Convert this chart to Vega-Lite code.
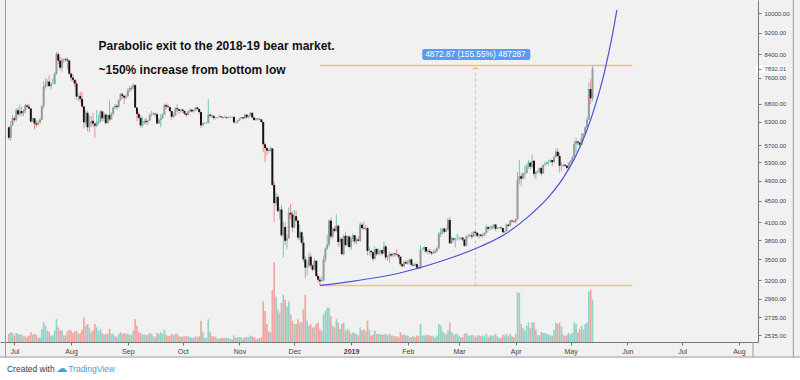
{
"$schema":"https://vega.github.io/schema/vega-lite/v6.json",
"width":758,"height":342,
"autosize":{"type":"none"},
"padding":{"left":0,"top":0,"right":42,"bottom":38},
"background":"#f1f1f1",
"config":{"font":"Liberation Sans","view":{"stroke":null}},
"datasets":{
"candles":[
{"d":"2018-06-28","o":6150,"h":6170,"l":5830,"c":5880,"v":10},
{"d":"2018-06-29","o":5880,"h":6300,"l":5800,"c":6200,"v":12},
{"d":"2018-06-30","o":6200,"h":6480,"l":6190,"c":6390,"v":11},
{"d":"2018-07-01","o":6390,"h":6440,"l":6280,"c":6350,"v":8},
{"d":"2018-07-02","o":6350,"h":6680,"l":6300,"c":6610,"v":11},
{"d":"2018-07-03","o":6610,"h":6680,"l":6470,"c":6500,"v":10},
{"d":"2018-07-04","o":6500,"h":6770,"l":6440,"c":6590,"v":9},
{"d":"2018-07-05","o":6590,"h":6710,"l":6460,"c":6530,"v":9},
{"d":"2018-07-06","o":6530,"h":6640,"l":6450,"c":6600,"v":7},
{"d":"2018-07-07","o":6600,"h":6790,"l":6540,"c":6750,"v":7},
{"d":"2018-07-08","o":6750,"h":6780,"l":6690,"c":6710,"v":6},
{"d":"2018-07-09","o":6710,"h":6800,"l":6640,"c":6660,"v":8},
{"d":"2018-07-10","o":6660,"h":6680,"l":6280,"c":6300,"v":12},
{"d":"2018-07-11","o":6300,"h":6410,"l":6290,"c":6390,"v":9},
{"d":"2018-07-12","o":6390,"h":6400,"l":6100,"c":6250,"v":10},
{"d":"2018-07-13","o":6250,"h":6340,"l":6140,"c":6220,"v":9},
{"d":"2018-07-14","o":6220,"h":6330,"l":6200,"c":6270,"v":5},
{"d":"2018-07-15","o":6270,"h":6400,"l":6250,"c":6350,"v":6},
{"d":"2018-07-16","o":6350,"h":6760,"l":6340,"c":6730,"v":16},
{"d":"2018-07-17","o":6730,"h":7480,"l":6660,"c":7320,"v":24},
{"d":"2018-07-18","o":7320,"h":7580,"l":7250,"c":7380,"v":20},
{"d":"2018-07-19","o":7380,"h":7550,"l":7300,"c":7470,"v":14},
{"d":"2018-07-20","o":7470,"h":7680,"l":7300,"c":7330,"v":13},
{"d":"2018-07-21","o":7330,"h":7440,"l":7220,"c":7400,"v":8},
{"d":"2018-07-22","o":7400,"h":7580,"l":7380,"c":7400,"v":8},
{"d":"2018-07-23","o":7400,"h":7780,"l":7380,"c":7720,"v":14},
{"d":"2018-07-24","o":7720,"h":8480,"l":7700,"c":8400,"v":28},
{"d":"2018-07-25","o":8400,"h":8470,"l":8060,"c":8170,"v":18},
{"d":"2018-07-26","o":8170,"h":8300,"l":7850,"c":7930,"v":14},
{"d":"2018-07-27","o":7930,"h":8270,"l":7800,"c":8190,"v":14},
{"d":"2018-07-28","o":8190,"h":8240,"l":8090,"c":8230,"v":8},
{"d":"2018-07-29","o":8230,"h":8290,"l":8130,"c":8210,"v":8},
{"d":"2018-07-30","o":8210,"h":8280,"l":7860,"c":8170,"v":13},
{"d":"2018-07-31","o":8170,"h":8180,"l":7700,"c":7730,"v":15},
{"d":"2018-08-01","o":7730,"h":7760,"l":7480,"c":7600,"v":14},
{"d":"2018-08-02","o":7600,"h":7720,"l":7460,"c":7530,"v":11},
{"d":"2018-08-03","o":7530,"h":7540,"l":7300,"c":7410,"v":13},
{"d":"2018-08-04","o":7410,"h":7500,"l":6930,"c":7010,"v":14},
{"d":"2018-08-05","o":7010,"h":7090,"l":6880,"c":7030,"v":10},
{"d":"2018-08-06","o":7030,"h":7150,"l":6840,"c":6940,"v":11},
{"d":"2018-08-07","o":6940,"h":7150,"l":6680,"c":6720,"v":15},
{"d":"2018-08-08","o":6720,"h":6730,"l":6120,"c":6280,"v":30},
{"d":"2018-08-09","o":6280,"h":6620,"l":6200,"c":6540,"v":20},
{"d":"2018-08-10","o":6540,"h":6590,"l":6050,"c":6150,"v":22},
{"d":"2018-08-11","o":6150,"h":6480,"l":6020,"c":6240,"v":18},
{"d":"2018-08-12","o":6240,"h":6450,"l":6160,"c":6320,"v":12},
{"d":"2018-08-13","o":6320,"h":6540,"l":6160,"c":6250,"v":14},
{"d":"2018-08-14","o":6250,"h":6260,"l":5880,"c":6190,"v":22},
{"d":"2018-08-15","o":6190,"h":6620,"l":6150,"c":6270,"v":18},
{"d":"2018-08-16","o":6270,"h":6480,"l":6220,"c":6310,"v":13},
{"d":"2018-08-17","o":6310,"h":6620,"l":6280,"c":6580,"v":16},
{"d":"2018-08-18","o":6580,"h":6600,"l":6310,"c":6390,"v":11},
{"d":"2018-08-19","o":6390,"h":6560,"l":6300,"c":6490,"v":9},
{"d":"2018-08-20","o":6490,"h":6520,"l":6230,"c":6260,"v":10},
{"d":"2018-08-21","o":6260,"h":6500,"l":6250,"c":6480,"v":10},
{"d":"2018-08-22","o":6480,"h":6900,"l":6300,"c":6360,"v":16},
{"d":"2018-08-23","o":6360,"h":6550,"l":6350,"c":6520,"v":10},
{"d":"2018-08-24","o":6520,"h":6710,"l":6470,"c":6690,"v":10},
{"d":"2018-08-25","o":6690,"h":6790,"l":6650,"c":6740,"v":7},
{"d":"2018-08-26","o":6740,"h":6780,"l":6620,"c":6710,"v":6},
{"d":"2018-08-27","o":6710,"h":6930,"l":6670,"c":6910,"v":10},
{"d":"2018-08-28","o":6910,"h":7120,"l":6880,"c":7080,"v":12},
{"d":"2018-08-29","o":7080,"h":7140,"l":6950,"c":7030,"v":10},
{"d":"2018-08-30","o":7030,"h":7060,"l":6790,"c":6980,"v":11},
{"d":"2018-08-31","o":6980,"h":7080,"l":6930,"c":7020,"v":10},
{"d":"2018-09-01","o":7020,"h":7260,"l":7010,"c":7190,"v":10},
{"d":"2018-09-02","o":7190,"h":7340,"l":7140,"c":7270,"v":9},
{"d":"2018-09-03","o":7270,"h":7340,"l":7190,"c":7260,"v":9},
{"d":"2018-09-04","o":7260,"h":7410,"l":7230,"c":7360,"v":14},
{"d":"2018-09-05","o":7360,"h":7390,"l":6680,"c":6690,"v":28},
{"d":"2018-09-06","o":6690,"h":6700,"l":6310,"c":6510,"v":20},
{"d":"2018-09-07","o":6510,"h":6560,"l":6370,"c":6400,"v":12},
{"d":"2018-09-08","o":6400,"h":6470,"l":6140,"c":6200,"v":11},
{"d":"2018-09-09","o":6200,"h":6440,"l":6140,"c":6250,"v":9},
{"d":"2018-09-10","o":6250,"h":6380,"l":6240,"c":6320,"v":9},
{"d":"2018-09-11","o":6320,"h":6400,"l":6210,"c":6290,"v":9},
{"d":"2018-09-12","o":6290,"h":6350,"l":6200,"c":6330,"v":9},
{"d":"2018-09-13","o":6330,"h":6530,"l":6320,"c":6480,"v":11},
{"d":"2018-09-14","o":6480,"h":6590,"l":6440,"c":6490,"v":10},
{"d":"2018-09-15","o":6490,"h":6560,"l":6480,"c":6520,"v":7},
{"d":"2018-09-16","o":6520,"h":6540,"l":6420,"c":6500,"v":6},
{"d":"2018-09-17","o":6500,"h":6520,"l":6240,"c":6250,"v":11},
{"d":"2018-09-18","o":6250,"h":6390,"l":6240,"c":6340,"v":10},
{"d":"2018-09-19","o":6340,"h":6510,"l":6150,"c":6390,"v":12},
{"d":"2018-09-20","o":6390,"h":6530,"l":6380,"c":6490,"v":10},
{"d":"2018-09-21","o":6490,"h":6790,"l":6480,"c":6760,"v":15},
{"d":"2018-09-22","o":6760,"h":6820,"l":6650,"c":6720,"v":9},
{"d":"2018-09-23","o":6720,"h":6790,"l":6690,"c":6700,"v":7},
{"d":"2018-09-24","o":6700,"h":6720,"l":6570,"c":6590,"v":8},
{"d":"2018-09-25","o":6590,"h":6600,"l":6350,"c":6430,"v":10},
{"d":"2018-09-26","o":6430,"h":6540,"l":6400,"c":6460,"v":9},
{"d":"2018-09-27","o":6460,"h":6700,"l":6450,"c":6670,"v":10},
{"d":"2018-09-28","o":6670,"h":6780,"l":6560,"c":6640,"v":10},
{"d":"2018-09-29","o":6640,"h":6650,"l":6500,"c":6600,"v":7},
{"d":"2018-09-30","o":6600,"h":6650,"l":6550,"c":6630,"v":6},
{"d":"2018-10-01","o":6630,"h":6650,"l":6540,"c":6590,"v":7},
{"d":"2018-10-02","o":6590,"h":6620,"l":6480,"c":6520,"v":7},
{"d":"2018-10-03","o":6520,"h":6530,"l":6430,"c":6480,"v":7},
{"d":"2018-10-04","o":6480,"h":6610,"l":6470,"c":6580,"v":7},
{"d":"2018-10-05","o":6580,"h":6660,"l":6550,"c":6630,"v":6},
{"d":"2018-10-06","o":6630,"h":6640,"l":6560,"c":6580,"v":5},
{"d":"2018-10-07","o":6580,"h":6630,"l":6540,"c":6610,"v":5},
{"d":"2018-10-08","o":6610,"h":6700,"l":6600,"c":6690,"v":7},
{"d":"2018-10-09","o":6690,"h":6700,"l":6620,"c":6650,"v":6},
{"d":"2018-10-10","o":6650,"h":6650,"l":6500,"c":6560,"v":7},
{"d":"2018-10-11","o":6560,"h":6570,"l":6130,"c":6200,"v":26},
{"d":"2018-10-12","o":6200,"h":6290,"l":6180,"c":6250,"v":12},
{"d":"2018-10-13","o":6250,"h":6290,"l":6230,"c":6260,"v":5},
{"d":"2018-10-14","o":6260,"h":6300,"l":6240,"c":6270,"v":5},
{"d":"2018-10-15","o":6270,"h":6930,"l":6250,"c":6490,"v":28},
{"d":"2018-10-16","o":6490,"h":6520,"l":6420,"c":6460,"v":12},
{"d":"2018-10-17","o":6460,"h":6490,"l":6400,"c":6450,"v":7},
{"d":"2018-10-18","o":6450,"h":6480,"l":6350,"c":6400,"v":7},
{"d":"2018-10-19","o":6400,"h":6420,"l":6360,"c":6400,"v":6},
{"d":"2018-10-20","o":6400,"h":6430,"l":6380,"c":6420,"v":4},
{"d":"2018-10-21","o":6420,"h":6490,"l":6410,"c":6440,"v":4},
{"d":"2018-10-22","o":6440,"h":6460,"l":6390,"c":6420,"v":5},
{"d":"2018-10-23","o":6420,"h":6440,"l":6370,"c":6410,"v":5},
{"d":"2018-10-24","o":6410,"h":6470,"l":6400,"c":6420,"v":5},
{"d":"2018-10-25","o":6420,"h":6430,"l":6380,"c":6400,"v":5},
{"d":"2018-10-26","o":6400,"h":6440,"l":6390,"c":6410,"v":5},
{"d":"2018-10-27","o":6410,"h":6440,"l":6400,"c":6430,"v":4},
{"d":"2018-10-28","o":6430,"h":6450,"l":6410,"c":6430,"v":3},
{"d":"2018-10-29","o":6430,"h":6440,"l":6240,"c":6280,"v":8},
{"d":"2018-10-30","o":6280,"h":6300,"l":6250,"c":6290,"v":5},
{"d":"2018-10-31","o":6290,"h":6340,"l":6250,"c":6330,"v":6},
{"d":"2018-11-01","o":6330,"h":6390,"l":6320,"c":6380,"v":6},
{"d":"2018-11-02","o":6380,"h":6420,"l":6370,"c":6420,"v":6},
{"d":"2018-11-03","o":6420,"h":6420,"l":6360,"c":6390,"v":4},
{"d":"2018-11-04","o":6390,"h":6500,"l":6370,"c":6490,"v":6},
{"d":"2018-11-05","o":6490,"h":6490,"l":6380,"c":6420,"v":6},
{"d":"2018-11-06","o":6420,"h":6470,"l":6390,"c":6460,"v":6},
{"d":"2018-11-07","o":6460,"h":6560,"l":6450,"c":6540,"v":8},
{"d":"2018-11-08","o":6540,"h":6550,"l":6390,"c":6410,"v":7},
{"d":"2018-11-09","o":6410,"h":6430,"l":6330,"c":6340,"v":6},
{"d":"2018-11-10","o":6340,"h":6400,"l":6340,"c":6380,"v":4},
{"d":"2018-11-11","o":6380,"h":6390,"l":6330,"c":6370,"v":4},
{"d":"2018-11-12","o":6370,"h":6400,"l":6340,"c":6360,"v":5},
{"d":"2018-11-13","o":6360,"h":6360,"l":6260,"c":6290,"v":6},
{"d":"2018-11-14","o":6290,"h":6310,"l":5530,"c":5720,"v":50},
{"d":"2018-11-15","o":5720,"h":5770,"l":5300,"c":5630,"v":38},
{"d":"2018-11-16","o":5630,"h":5650,"l":5450,"c":5570,"v":22},
{"d":"2018-11-17","o":5570,"h":5600,"l":5520,"c":5560,"v":13},
{"d":"2018-11-18","o":5560,"h":5660,"l":5550,"c":5620,"v":12},
{"d":"2018-11-19","o":5620,"h":5620,"l":4780,"c":4810,"v":64},
{"d":"2018-11-20","o":4810,"h":4880,"l":4100,"c":4450,"v":98},
{"d":"2018-11-21","o":4450,"h":4650,"l":4400,"c":4570,"v":56},
{"d":"2018-11-22","o":4570,"h":4620,"l":4280,"c":4300,"v":40},
{"d":"2018-11-23","o":4300,"h":4370,"l":4150,"c":4330,"v":36},
{"d":"2018-11-24","o":4330,"h":4420,"l":3850,"c":3880,"v":48},
{"d":"2018-11-25","o":3880,"h":4120,"l":3530,"c":4020,"v":58},
{"d":"2018-11-26","o":4020,"h":4100,"l":3720,"c":3790,"v":52},
{"d":"2018-11-27","o":3790,"h":3890,"l":3660,"c":3830,"v":44},
{"d":"2018-11-28","o":3830,"h":4370,"l":3820,"c":4270,"v":50},
{"d":"2018-11-29","o":4270,"h":4440,"l":4160,"c":4240,"v":34},
{"d":"2018-11-30","o":4240,"h":4300,"l":3930,"c":4010,"v":26},
{"d":"2018-12-01","o":4010,"h":4320,"l":4000,"c":4210,"v":22},
{"d":"2018-12-02","o":4210,"h":4310,"l":4100,"c":4130,"v":22},
{"d":"2018-12-03","o":4130,"h":4140,"l":3800,"c":3840,"v":28},
{"d":"2018-12-04","o":3840,"h":4060,"l":3800,"c":3930,"v":24},
{"d":"2018-12-05","o":3930,"h":3950,"l":3730,"c":3760,"v":24},
{"d":"2018-12-06","o":3760,"h":3860,"l":3460,"c":3500,"v":40},
{"d":"2018-12-07","o":3500,"h":3550,"l":3230,"c":3380,"v":58},
{"d":"2018-12-08","o":3380,"h":3480,"l":3270,"c":3400,"v":26},
{"d":"2018-12-09","o":3400,"h":3600,"l":3390,"c":3540,"v":20},
{"d":"2018-12-10","o":3540,"h":3590,"l":3370,"c":3410,"v":22},
{"d":"2018-12-11","o":3410,"h":3430,"l":3330,"c":3350,"v":18},
{"d":"2018-12-12","o":3350,"h":3510,"l":3340,"c":3480,"v":18},
{"d":"2018-12-13","o":3480,"h":3480,"l":3250,"c":3260,"v":22},
{"d":"2018-12-14","o":3260,"h":3290,"l":3170,"c":3210,"v":24},
{"d":"2018-12-15","o":3210,"h":3240,"l":3133,"c":3190,"v":16},
{"d":"2018-12-16","o":3190,"h":3260,"l":3180,"c":3200,"v":14},
{"d":"2018-12-17","o":3200,"h":3560,"l":3190,"c":3500,"v":34},
{"d":"2018-12-18","o":3500,"h":3680,"l":3460,"c":3660,"v":38},
{"d":"2018-12-19","o":3660,"h":3890,"l":3650,"c":3730,"v":42},
{"d":"2018-12-20","o":3730,"h":4150,"l":3700,"c":4130,"v":42},
{"d":"2018-12-21","o":4130,"h":4180,"l":3810,"c":3860,"v":32},
{"d":"2018-12-22","o":3860,"h":4010,"l":3830,"c":3990,"v":20},
{"d":"2018-12-23","o":3990,"h":4030,"l":3930,"c":3950,"v":18},
{"d":"2018-12-24","o":3950,"h":4240,"l":3940,"c":4040,"v":28},
{"d":"2018-12-25","o":4040,"h":4060,"l":3700,"c":3770,"v":24},
{"d":"2018-12-26","o":3770,"h":3850,"l":3700,"c":3820,"v":16},
{"d":"2018-12-27","o":3820,"h":3850,"l":3560,"c":3580,"v":22},
{"d":"2018-12-28","o":3580,"h":3890,"l":3560,"c":3870,"v":24},
{"d":"2018-12-29","o":3870,"h":3940,"l":3710,"c":3720,"v":14},
{"d":"2018-12-30","o":3720,"h":3880,"l":3700,"c":3860,"v":16},
{"d":"2018-12-31","o":3860,"h":3870,"l":3670,"c":3690,"v":14},
{"d":"2019-01-01","o":3690,"h":3850,"l":3640,"c":3820,"v":10},
{"d":"2019-01-02","o":3820,"h":3910,"l":3770,"c":3880,"v":12},
{"d":"2019-01-03","o":3880,"h":3880,"l":3740,"c":3780,"v":11},
{"d":"2019-01-04","o":3780,"h":3830,"l":3730,"c":3810,"v":10},
{"d":"2019-01-05","o":3810,"h":3870,"l":3780,"c":3790,"v":8},
{"d":"2019-01-06","o":3790,"h":4100,"l":3770,"c":4060,"v":18},
{"d":"2019-01-07","o":4060,"h":4090,"l":3980,"c":4000,"v":14},
{"d":"2019-01-08","o":4000,"h":4110,"l":3960,"c":3990,"v":16},
{"d":"2019-01-09","o":3990,"h":4050,"l":3970,"c":4000,"v":13},
{"d":"2019-01-10","o":4000,"h":4020,"l":3560,"c":3630,"v":26},
{"d":"2019-01-11","o":3630,"h":3690,"l":3560,"c":3630,"v":15},
{"d":"2019-01-12","o":3630,"h":3650,"l":3540,"c":3610,"v":8},
{"d":"2019-01-13","o":3610,"h":3620,"l":3470,"c":3510,"v":9},
{"d":"2019-01-14","o":3510,"h":3700,"l":3500,"c":3660,"v":14},
{"d":"2019-01-15","o":3660,"h":3670,"l":3550,"c":3580,"v":10},
{"d":"2019-01-16","o":3580,"h":3670,"l":3570,"c":3610,"v":10},
{"d":"2019-01-17","o":3610,"h":3650,"l":3560,"c":3640,"v":10},
{"d":"2019-01-18","o":3640,"h":3650,"l":3560,"c":3590,"v":9},
{"d":"2019-01-19","o":3590,"h":3780,"l":3580,"c":3700,"v":9},
{"d":"2019-01-20","o":3700,"h":3720,"l":3490,"c":3530,"v":10},
{"d":"2019-01-21","o":3530,"h":3560,"l":3480,"c":3550,"v":8},
{"d":"2019-01-22","o":3550,"h":3620,"l":3450,"c":3580,"v":10},
{"d":"2019-01-23","o":3580,"h":3600,"l":3530,"c":3560,"v":8},
{"d":"2019-01-24","o":3560,"h":3600,"l":3540,"c":3590,"v":8},
{"d":"2019-01-25","o":3590,"h":3600,"l":3540,"c":3580,"v":7},
{"d":"2019-01-26","o":3580,"h":3660,"l":3560,"c":3570,"v":7},
{"d":"2019-01-27","o":3570,"h":3580,"l":3500,"c":3540,"v":6},
{"d":"2019-01-28","o":3540,"h":3550,"l":3400,"c":3430,"v":12},
{"d":"2019-01-29","o":3430,"h":3440,"l":3380,"c":3400,"v":9},
{"d":"2019-01-30","o":3400,"h":3480,"l":3390,"c":3460,"v":9},
{"d":"2019-01-31","o":3460,"h":3490,"l":3430,"c":3440,"v":8},
{"d":"2019-02-01","o":3440,"h":3490,"l":3420,"c":3460,"v":8},
{"d":"2019-02-02","o":3460,"h":3510,"l":3440,"c":3500,"v":6},
{"d":"2019-02-03","o":3500,"h":3510,"l":3400,"c":3420,"v":6},
{"d":"2019-02-04","o":3420,"h":3440,"l":3400,"c":3410,"v":7},
{"d":"2019-02-05","o":3410,"h":3450,"l":3400,"c":3430,"v":6},
{"d":"2019-02-06","o":3430,"h":3440,"l":3360,"c":3380,"v":8},
{"d":"2019-02-07","o":3380,"h":3400,"l":3360,"c":3370,"v":7},
{"d":"2019-02-08","o":3370,"h":3720,"l":3360,"c":3650,"v":22},
{"d":"2019-02-09","o":3650,"h":3680,"l":3640,"c":3650,"v":8},
{"d":"2019-02-10","o":3650,"h":3700,"l":3620,"c":3690,"v":8},
{"d":"2019-02-11","o":3690,"h":3690,"l":3600,"c":3620,"v":9},
{"d":"2019-02-12","o":3620,"h":3660,"l":3570,"c":3630,"v":9},
{"d":"2019-02-13","o":3630,"h":3660,"l":3590,"c":3610,"v":8},
{"d":"2019-02-14","o":3610,"h":3630,"l":3560,"c":3590,"v":7},
{"d":"2019-02-15","o":3590,"h":3650,"l":3580,"c":3600,"v":7},
{"d":"2019-02-16","o":3600,"h":3660,"l":3590,"c":3630,"v":6},
{"d":"2019-02-17","o":3630,"h":3690,"l":3610,"c":3670,"v":8},
{"d":"2019-02-18","o":3670,"h":3930,"l":3660,"c":3900,"v":22},
{"d":"2019-02-19","o":3900,"h":4000,"l":3850,"c":3930,"v":20},
{"d":"2019-02-20","o":3930,"h":4000,"l":3900,"c":3990,"v":13},
{"d":"2019-02-21","o":3990,"h":4010,"l":3910,"c":3940,"v":11},
{"d":"2019-02-22","o":3940,"h":4000,"l":3930,"c":3980,"v":9},
{"d":"2019-02-23","o":3980,"h":4180,"l":3960,"c":4140,"v":14},
{"d":"2019-02-24","o":4140,"h":4200,"l":3740,"c":3750,"v":24},
{"d":"2019-02-25","o":3750,"h":3860,"l":3740,"c":3830,"v":12},
{"d":"2019-02-26","o":3830,"h":3840,"l":3780,"c":3810,"v":9},
{"d":"2019-02-27","o":3810,"h":3840,"l":3680,"c":3820,"v":10},
{"d":"2019-02-28","o":3820,"h":3900,"l":3790,"c":3820,"v":10},
{"d":"2019-03-01","o":3820,"h":3860,"l":3810,"c":3830,"v":8},
{"d":"2019-03-02","o":3830,"h":3850,"l":3800,"c":3840,"v":6},
{"d":"2019-03-03","o":3840,"h":3850,"l":3780,"c":3810,"v":6},
{"d":"2019-03-04","o":3810,"h":3820,"l":3690,"c":3710,"v":10},
{"d":"2019-03-05","o":3710,"h":3880,"l":3700,"c":3860,"v":11},
{"d":"2019-03-06","o":3860,"h":3900,"l":3830,"c":3870,"v":8},
{"d":"2019-03-07","o":3870,"h":3910,"l":3850,"c":3880,"v":8},
{"d":"2019-03-08","o":3880,"h":3930,"l":3820,"c":3860,"v":9},
{"d":"2019-03-09","o":3860,"h":3950,"l":3850,"c":3940,"v":8},
{"d":"2019-03-10","o":3940,"h":3950,"l":3890,"c":3920,"v":6},
{"d":"2019-03-11","o":3920,"h":3930,"l":3850,"c":3870,"v":8},
{"d":"2019-03-12","o":3870,"h":3900,"l":3820,"c":3890,"v":8},
{"d":"2019-03-13","o":3890,"h":3900,"l":3850,"c":3870,"v":7},
{"d":"2019-03-14","o":3870,"h":3920,"l":3830,"c":3880,"v":8},
{"d":"2019-03-15","o":3880,"h":3930,"l":3870,"c":3920,"v":7},
{"d":"2019-03-16","o":3920,"h":4060,"l":3910,"c":4020,"v":10},
{"d":"2019-03-17","o":4020,"h":4030,"l":3960,"c":3990,"v":6},
{"d":"2019-03-18","o":3990,"h":4040,"l":3960,"c":3990,"v":8},
{"d":"2019-03-19","o":3990,"h":4040,"l":3980,"c":4030,"v":8},
{"d":"2019-03-20","o":4030,"h":4070,"l":3990,"c":4060,"v":8},
{"d":"2019-03-21","o":4060,"h":4070,"l":3950,"c":3990,"v":10},
{"d":"2019-03-22","o":3990,"h":4020,"l":3980,"c":4000,"v":7},
{"d":"2019-03-23","o":4000,"h":4020,"l":3990,"c":4010,"v":5},
{"d":"2019-03-24","o":4010,"h":4020,"l":3980,"c":4000,"v":5},
{"d":"2019-03-25","o":4000,"h":4010,"l":3910,"c":3930,"v":9},
{"d":"2019-03-26","o":3930,"h":3960,"l":3920,"c":3950,"v":8},
{"d":"2019-03-27","o":3950,"h":4080,"l":3940,"c":4060,"v":10},
{"d":"2019-03-28","o":4060,"h":4070,"l":4020,"c":4040,"v":7},
{"d":"2019-03-29","o":4040,"h":4140,"l":4030,"c":4130,"v":10},
{"d":"2019-03-30","o":4130,"h":4150,"l":4090,"c":4120,"v":7},
{"d":"2019-03-31","o":4120,"h":4130,"l":4100,"c":4110,"v":6},
{"d":"2019-04-01","o":4110,"h":4170,"l":4080,"c":4150,"v":10},
{"d":"2019-04-02","o":4150,"h":5080,"l":4150,"c":4920,"v":61},
{"d":"2019-04-03","o":4920,"h":5350,"l":4820,"c":4990,"v":60},
{"d":"2019-04-04","o":4990,"h":5060,"l":4780,"c":4940,"v":22},
{"d":"2019-04-05","o":4940,"h":5070,"l":4920,"c":5050,"v":17},
{"d":"2019-04-06","o":5050,"h":5230,"l":4940,"c":5060,"v":14},
{"d":"2019-04-07","o":5060,"h":5250,"l":5050,"c":5200,"v":20},
{"d":"2019-04-08","o":5200,"h":5350,"l":5150,"c":5290,"v":24},
{"d":"2019-04-09","o":5290,"h":5290,"l":5140,"c":5200,"v":17},
{"d":"2019-04-10","o":5200,"h":5480,"l":5170,"c":5330,"v":24},
{"d":"2019-04-11","o":5330,"h":5350,"l":4980,"c":5040,"v":24},
{"d":"2019-04-12","o":5040,"h":5100,"l":4930,"c":5080,"v":16},
{"d":"2019-04-13","o":5080,"h":5120,"l":5050,"c":5090,"v":9},
{"d":"2019-04-14","o":5090,"h":5180,"l":5060,"c":5170,"v":8},
{"d":"2019-04-15","o":5170,"h":5200,"l":5000,"c":5050,"v":12},
{"d":"2019-04-16","o":5050,"h":5250,"l":5040,"c":5240,"v":11},
{"d":"2019-04-17","o":5240,"h":5300,"l":5220,"c":5260,"v":11},
{"d":"2019-04-18","o":5260,"h":5320,"l":5250,"c":5300,"v":10},
{"d":"2019-04-19","o":5300,"h":5350,"l":5230,"c":5300,"v":9},
{"d":"2019-04-20","o":5300,"h":5360,"l":5280,"c":5350,"v":8},
{"d":"2019-04-21","o":5350,"h":5350,"l":5210,"c":5300,"v":8},
{"d":"2019-04-22","o":5300,"h":5460,"l":5280,"c":5420,"v":15},
{"d":"2019-04-23","o":5420,"h":5620,"l":5410,"c":5540,"v":24},
{"d":"2019-04-24","o":5540,"h":5620,"l":5400,"c":5440,"v":22},
{"d":"2019-04-25","o":5440,"h":5520,"l":5070,"c":5220,"v":24},
{"d":"2019-04-26","o":5220,"h":5300,"l":5100,"c":5220,"v":19},
{"d":"2019-04-27","o":5220,"h":5260,"l":5190,"c":5240,"v":9},
{"d":"2019-04-28","o":5240,"h":5260,"l":5190,"c":5220,"v":7},
{"d":"2019-04-29","o":5220,"h":5240,"l":5130,"c":5170,"v":9},
{"d":"2019-04-30","o":5170,"h":5300,"l":5160,"c":5280,"v":11},
{"d":"2019-05-01","o":5280,"h":5350,"l":5270,"c":5330,"v":9},
{"d":"2019-05-02","o":5330,"h":5440,"l":5320,"c":5420,"v":11},
{"d":"2019-05-03","o":5420,"h":5800,"l":5410,"c":5720,"v":24},
{"d":"2019-05-04","o":5720,"h":5880,"l":5530,"c":5790,"v":22},
{"d":"2019-05-05","o":5790,"h":5810,"l":5700,"c":5760,"v":12},
{"d":"2019-05-06","o":5760,"h":5770,"l":5620,"c":5710,"v":16},
{"d":"2019-05-07","o":5710,"h":6000,"l":5700,"c":5880,"v":20},
{"d":"2019-05-08","o":5880,"h":6000,"l":5800,"c":5980,"v":15},
{"d":"2019-05-09","o":5980,"h":6180,"l":5980,"c":6150,"v":22},
{"d":"2019-05-10","o":6150,"h":6420,"l":6130,"c":6350,"v":24},
{"d":"2019-05-11","o":6350,"h":7450,"l":6350,"c":7240,"v":62},
{"d":"2019-05-12","o":7240,"h":7560,"l":6790,"c":6960,"v":64},
{"d":"2019-05-13","o":6960,"h":8005,"l":6880,"c":7892.01,"v":52}
],
"curve":[
{"d":"2018-12-15T00:00:00Z","p":3133},
{"d":"2018-12-31T16:00:00Z","p":3185},
{"d":"2019-01-27T15:00:00Z","p":3303},
{"d":"2019-02-23T14:00:00Z","p":3513},
{"d":"2019-03-13T09:00:00Z","p":3706},
{"d":"2019-03-26T08:00:00Z","p":3902},
{"d":"2019-04-07T18:00:00Z","p":4196},
{"d":"2019-04-18T13:00:00Z","p":4550},
{"d":"2019-04-26T15:00:00Z","p":4935},
{"d":"2019-05-03T15:00:00Z","p":5420},
{"d":"2019-05-09T14:00:00Z","p":6030},
{"d":"2019-05-14T10:00:00Z","p":6737},
{"d":"2019-05-18T18:00:00Z","p":7589},
{"d":"2019-05-21T23:00:00Z","p":8478},
{"d":"2019-05-24T16:00:00Z","p":9432},
{"d":"2019-05-26T07:00:00Z","p":10142}
],
"levels":[
{"d":"2018-12-15T00:00:00Z","d2":"2019-06-03T19:00:00Z","p":3132.67},
{"d":"2018-12-15T00:00:00Z","d2":"2019-06-03T19:00:00Z","p":8005.54}
],
"measure":[{"d":"2019-03-10T00:00:00Z","p":3132.67,"p2":7932}],
"box":[{"d":"2019-02-08T22:00:00Z","d2":"2019-04-09T00:00:00Z","p":8586,"p2":8193}],
"boxtext":[{"d":"2019-03-10T00:00:00Z","p":8387,"t":"4872.87 (155.55%) 487287"}],
"notes":[
{"d":"2018-08-16T00:00:00Z","p":8542,"t":"Parabolic exit to the 2018-19 bear market."},
{"d":"2018-08-16T00:00:00Z","p":7734,"t":"~150% increase from bottom low"}
],
"footer":[{"d":"2018-06-01T00:00:00Z","d2":"2019-10-01T00:00:00Z","p":2308,"p2":1500}],
"frame":[
{"d":"2018-06-26T03:30:00Z","p":2308,"p2":20000},
{"d":"2019-08-08T17:00:00Z","p":2308,"p2":2461},
{"d":"2019-08-30T19:00:00Z","p":2308,"p2":20000}
],
"pricebox":[{"d":"2019-08-10T07:00:00Z","d2":"2019-08-26T00:00:00Z","p":8021,"p2":7768}],
"credit1":[{"d":"2018-06-26T23:00:00Z","p":2190,"t":"Created with"}],
"credit2":[{"d":"2018-07-26T22:00:00Z","p":2190,"t":"☁"}],
"credit3":[{"d":"2018-07-30T10:00:00Z","p":2190,"t":"TradingView"}]
},
"encoding":{
"x":{"field":"d","type":"temporal",
"scale":{"type":"utc","domain":[{"year":2018,"month":6,"date":25,"hours":21,"utc":true},{"year":2019,"month":8,"date":8,"hours":17,"utc":true}]},
"axis":{"title":null,"grid":false,
"values":[{"year":2018,"month":7,"date":1,"utc":true},{"year":2018,"month":8,"date":1,"utc":true},{"year":2018,"month":9,"date":1,"utc":true},{"year":2018,"month":10,"date":1,"utc":true},{"year":2018,"month":11,"date":1,"utc":true},{"year":2018,"month":12,"date":1,"utc":true},{"year":2019,"month":1,"date":1,"utc":true},{"year":2019,"month":2,"date":1,"utc":true},{"year":2019,"month":3,"date":1,"utc":true},{"year":2019,"month":4,"date":1,"utc":true},{"year":2019,"month":5,"date":1,"utc":true},{"year":2019,"month":6,"date":1,"utc":true},{"year":2019,"month":7,"date":1,"utc":true},{"year":2019,"month":8,"date":1,"utc":true}],
"labelExpr":"utcmonth(datum.value)==0 ? utcFormat(datum.value,'%Y') : utcFormat(datum.value,'%b')",
"labelFontWeight":{"condition":{"test":"utcmonth(datum.value)==0","value":"bold"},"value":"normal"},
"labelFontSize":7,"labelColor":"#444","tickSize":3,"tickColor":"#777","domainColor":"#777","labelPadding":2,"labelOverlap":false,"labelFlush":false}}
},
"layer":[
{"data":{"name":"candles"},"mark":{"type":"bar","size":1.7},
"encoding":{"y":{"field":"v","type":"quantitative","scale":{"domain":[0,420]},"axis":null},
"color":{"condition":{"test":"datum.c>=datum.o","value":"#8fd4c9"},"value":"#f3a5a1"}}},
{"data":{"name":"candles"},"mark":{"type":"rule","strokeWidth":1},
"encoding":{"y":{"field":"l","type":"quantitative","scale":{"type":"log","domain":[2461,10583],"nice":false,"zero":false},
"axis":{"orient":"right","title":null,"grid":false,"values":[2535,2735,2960,3200,3500,3800,4100,4500,4900,5300,5700,6300,6800,7600,7892.01,8400,9200,10000],"format":".2f","tickSize":3,"labelFontSize":6,"labelPadding":3,"labelColor":"#444","tickColor":"#777","domainColor":"#777","labelOverlap":false,"labelBound":false,"zindex":1}},
"y2":{"field":"h"},
"color":{"condition":{"test":"datum.c>=datum.o","value":"#6fc9bb"},"value":"#ef8f8c"}}},
{"data":{"name":"candles"},"mark":{"type":"bar","size":2},
"encoding":{"y":{"field":"o","type":"quantitative","scale":{"type":"log","domain":[2461,10583],"nice":false,"zero":false},"axis":null},
"y2":{"field":"c"},
"color":{"condition":{"test":"datum.c>=datum.o","value":"#9a9a9a"},"value":"#151515"}}},
{"data":{"name":"levels"},"mark":{"type":"rule","color":"#f4bf7a","strokeWidth":1.5},
"encoding":{"x2":{"field":"d2"},"y":{"field":"p","type":"quantitative","scale":{"type":"log","domain":[2461,10583],"nice":false,"zero":false},"axis":null}}},
{"data":{"name":"measure"},"mark":{"type":"rule","color":"#f4bf7a","strokeWidth":1.2,"strokeDash":[3,3]},
"encoding":{"y":{"field":"p","type":"quantitative","scale":{"type":"log","domain":[2461,10583],"nice":false,"zero":false},"axis":null},"y2":{"field":"p2"}}},
{"data":{"name":"measure"},"mark":{"type":"point","shape":"M-1,0.6L0,0L1,0.6","filled":false,"color":"#f4bf7a","size":40,"strokeWidth":1.2,"opacity":1},
"encoding":{"y":{"field":"p2","type":"quantitative","scale":{"type":"log","domain":[2461,10583],"nice":false,"zero":false},"axis":null}}},
{"data":{"name":"curve"},"mark":{"type":"line","color":"#4f4fd9","strokeWidth":1.2,"interpolate":"monotone"},
"encoding":{"y":{"field":"p","type":"quantitative","scale":{"type":"log","domain":[2461,10583],"nice":false,"zero":false},"axis":null}}},
{"data":{"name":"box"},"mark":{"type":"rect","color":"#5b9bef","cornerRadius":2},
"encoding":{"x2":{"field":"d2"},"y":{"field":"p","type":"quantitative","scale":{"type":"log","domain":[2461,10583],"nice":false,"zero":false},"axis":null},"y2":{"field":"p2"}}},
{"data":{"name":"boxtext"},"mark":{"type":"text","color":"#ffffff","fontSize":8.3,"align":"center","baseline":"middle"},
"encoding":{"y":{"field":"p","type":"quantitative","scale":{"type":"log","domain":[2461,10583],"nice":false,"zero":false},"axis":null},"text":{"field":"t"}}},
{"data":{"name":"notes"},"mark":{"type":"text","color":"#111111","fontSize":12,"fontWeight":"bold","align":"left","baseline":"alphabetic"},
"encoding":{"y":{"field":"p","type":"quantitative","scale":{"type":"log","domain":[2461,10583],"nice":false,"zero":false},"axis":null},"text":{"field":"t"}}},
{"data":{"name":"footer"},"mark":{"type":"rect","fill":"#ffffff","stroke":"#9a9a9a","strokeWidth":1},
"encoding":{"x2":{"field":"d2"},"y":{"field":"p","type":"quantitative","scale":{"type":"log","domain":[2461,10583],"nice":false,"zero":false},"axis":null},"y2":{"field":"p2"}}},
{"data":{"name":"frame"},"mark":{"type":"rule","color":"#9a9a9a","strokeWidth":1},
"encoding":{"y":{"field":"p","type":"quantitative","scale":{"type":"log","domain":[2461,10583],"nice":false,"zero":false},"axis":null},"y2":{"field":"p2"}}},
{"data":{"name":"pricebox"},"mark":{"type":"rect","fill":"#ffffff"},
"encoding":{"x2":{"field":"d2"},"y":{"field":"p","type":"quantitative","scale":{"type":"log","domain":[2461,10583],"nice":false,"zero":false},"axis":null},"y2":{"field":"p2"}}},
{"data":{"name":"credit1"},"mark":{"type":"text","color":"#3a3a3a","fontSize":8.5,"align":"left","baseline":"middle"},
"encoding":{"y":{"field":"p","type":"quantitative","scale":{"type":"log","domain":[2461,10583],"nice":false,"zero":false},"axis":null},"text":{"field":"t"}}},
{"data":{"name":"credit2"},"mark":{"type":"text","color":"#3aa3dc","fontSize":11,"font":"DejaVu Sans","align":"center","baseline":"middle"},
"encoding":{"y":{"field":"p","type":"quantitative","scale":{"type":"log","domain":[2461,10583],"nice":false,"zero":false},"axis":null},"text":{"field":"t"}}},
{"data":{"name":"credit3"},"mark":{"type":"text","color":"#3aa3dc","fontSize":8.5,"align":"left","baseline":"middle"},
"encoding":{"y":{"field":"p","type":"quantitative","scale":{"type":"log","domain":[2461,10583],"nice":false,"zero":false},"axis":null},"text":{"field":"t"}}}
],
"resolve":{"scale":{"y":"independent"}}
}
